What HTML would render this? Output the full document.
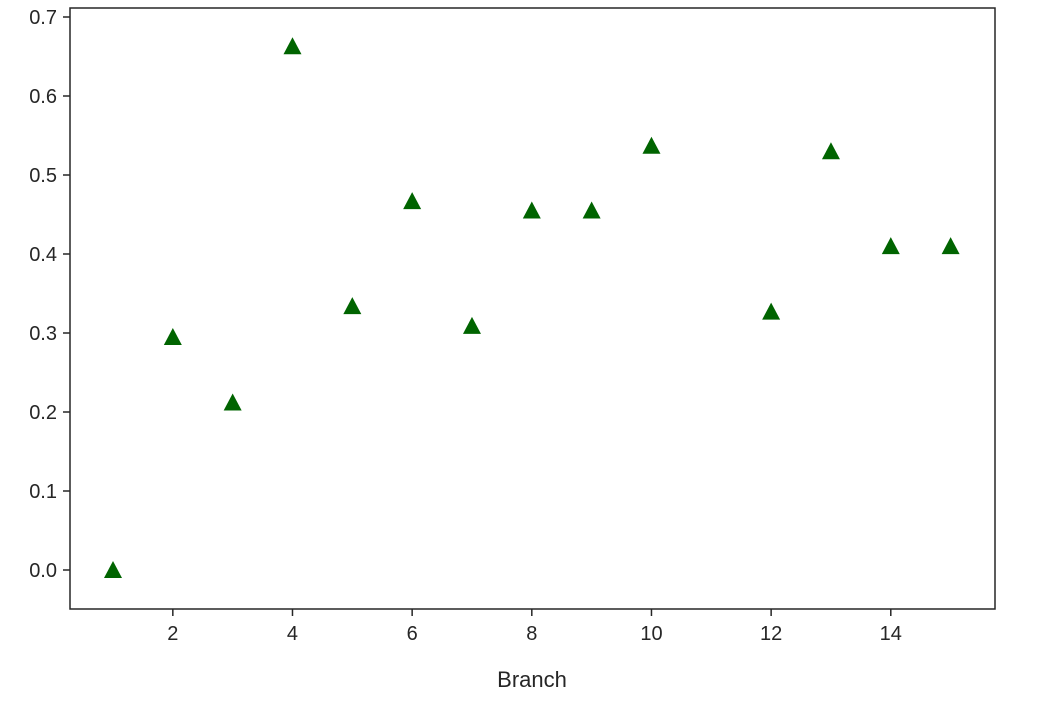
<!DOCTYPE html>
<html><head><meta charset="utf-8"><style>
body{margin:0;background:#fff;}
svg{display:block;font-family:"Liberation Sans","DejaVu Sans",sans-serif;}
</style></head><body>
<svg id="chart" width="1058" height="705">
<rect x="70" y="8" width="925" height="601" fill="#fff" stroke="#262626" stroke-width="1.5"/>
<g id="ticks"></g>
<g id="marks"></g>
<text x="532" y="687" text-anchor="middle" font-size="22" fill="#262626">Branch</text>
</svg>
<script>
const branches=[1,2,3,4,5,6,7,8,9,10,12,13,14,15];
const values=[0.0,0.295,0.212,0.663,0.334,0.467,0.309,0.455,0.455,0.537,0.327,0.530,0.410,0.410];
const xTicks=[2,4,6,8,10,12,14];
const yTicks=[0.0,0.1,0.2,0.3,0.4,0.5,0.6,0.7];
const NS="http://www.w3.org/2000/svg";
function xs(v){return 113+(v-1)*59.83;}
function ys(v){return 570-v*790;}
const tg=document.getElementById('ticks'),mg=document.getElementById('marks');
function mk(tag,attrs,parent){const e=document.createElementNS(NS,tag);for(const k in attrs)e.setAttribute(k,attrs[k]);parent.appendChild(e);return e;}
xTicks.forEach(t=>{
 const l=mk('line',{x1:xs(t),x2:xs(t),y1:609,y2:616,stroke:'#262626','stroke-width':1.5},tg);
 
 
 const tx=mk('text',{x:xs(t),y:640,'text-anchor':'middle','font-size':20,fill:'#262626'},tg);
 tx.textContent=String(t);
 
 
});
yTicks.forEach(t=>{
 const l=mk('line',{x1:63,x2:70,y1:ys(t),y2:ys(t),stroke:'#262626','stroke-width':1.5},tg);
 
 
 const tx=mk('text',{x:57,y:ys(t)+7,'text-anchor':'end','font-size':20,fill:'#262626'},tg);
 tx.textContent=t.toFixed(1);
 
 
});
branches.forEach((b,i)=>{
 const cx=xs(b),cy=ys(values[i]);
 const p=mk('polygon',{points:`${cx},${cy-9} ${cx-9},${cy+8} ${cx+9},${cy+8}`,fill:'#006400'},mg);
 
 
});
</script>
</body></html>
